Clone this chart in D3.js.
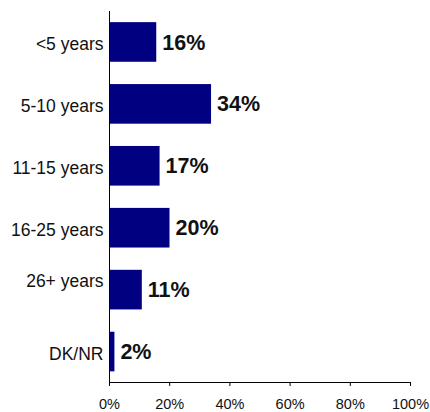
<!DOCTYPE html>
<html>
<head>
<meta charset="utf-8">
<script src="https://cdn.jsdelivr.net/npm/d3@7"></script>
<style>
  html, body { margin: 0; padding: 0; background: #fff; }
  svg { display: block; font-family: "Liberation Sans", Arial, sans-serif; }
</style>
</head>
<body>
<svg id="chart" width="430" height="412"></svg>
<script>
// Categories (a trailing line break in the source label lifts "26+ years" above its bar centre)
const categories = ["<5 years", "5-10 years", "11-15 years", "16-25 years", "26+ years\n", "DK/NR"];
// Percent values
const values = [15.7, 33.9, 16.8, 20.1, 10.9, 1.8];
// Bar value labels as printed
const valueLabels = ["16%", "34%", "17%", "20%", "11%", "2%"];
// Axis ticks
const tickValues = [0, 20, 40, 60, 80, 100];
const tickLabels = ["0%", "20%", "40%", "60%", "80%", "100%"];

const svg = d3.select("#chart");
const barColor = "#000080";

const x = d3.scaleLinear().domain([0, 100]).range([109, 410]);
const y = d3.scaleBand().domain(d3.range(categories.length)).range([11, 382.5])
  .paddingInner(0.36).paddingOuter(0.18);

// Bars
svg.append("g").selectAll("rect").data(values).join("rect")
  .attr("x", x(0))
  .attr("y", (d, i) => y(i))
  .attr("width", d => x(d) - x(0))
  .attr("height", y.bandwidth())
  .attr("fill", barColor);

// Bottom axis
const xAxis = d3.axisBottom(x).tickValues(tickValues)
  .tickFormat((d, i) => tickLabels[i]).tickSize(4).tickSizeOuter(0).tickPadding(13);
const gx = svg.append("g").attr("transform", "translate(0,382)").call(xAxis);
gx.select(".domain").attr("stroke", "#000");
gx.selectAll(".tick line").attr("stroke", "#000");
gx.selectAll(".tick text").attr("font-size", "14.5px").attr("fill", "#111")
  .attr("font-family", "'Liberation Sans', Arial, sans-serif");

// Left axis line (no ticks)
const yAxis = d3.axisLeft(y).tickSize(0).tickFormat("");
const gy = svg.append("g").attr("transform", "translate(109,0)").call(yAxis);
gy.select(".domain").attr("stroke", "#000").attr("d", "M0.5,11V382.5");
gy.selectAll(".tick").remove();

// Category labels (support multi-line labels, block centred on band)
const lh = 22;
categories.forEach((c, i) => {
  const lines = c.split("\n");
  const cy = y(i) + y.bandwidth() / 2;
  const top = cy - (lines.length - 1) * lh / 2;
  const t = svg.append("text")
    .attr("text-anchor", "end")
    .attr("font-size", "17.5px")
    .attr("fill", "#111");
  lines.forEach((ln, j) => {
    if (ln.length === 0) return;
    t.append("tspan").attr("x", 103.5).attr("y", top + j * lh + 8).text(ln);
  });
});

// Value labels
svg.append("g").selectAll("text").data(values).join("text")
  .attr("x", d => x(d) + 6)
  .attr("y", (d, i) => y(i) + y.bandwidth() / 2 + 7.6)
  .attr("font-size", "21.5px")
  .attr("font-weight", "bold")
  .attr("fill", "#111")
  .text((d, i) => valueLabels[i]);
</script>
</body>
</html>
